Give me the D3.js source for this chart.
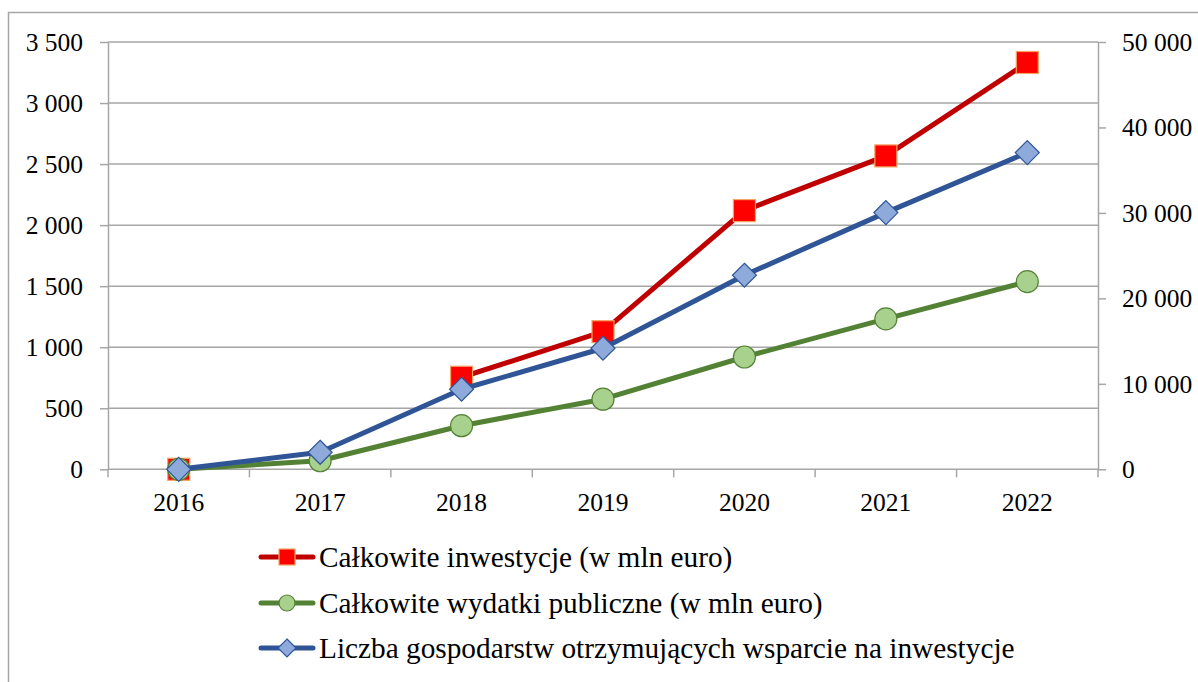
<!doctype html>
<html>
<head>
<meta charset="utf-8">
<style>
    body { margin: 0; background: #fff; }
    svg text { font-family: "Liberation Serif", "Times New Roman", serif; fill: #000; }
    .axis path, .axis line { stroke: #a6a6a6; }
</style>
<script src="https://d3js.org/d3.v7.min.js"></script>
</head>
<body>
<svg width="1198" height="682"></svg>
<script>
// data
var years = ["2016", "2017", "2018", "2019", "2020", "2021", "2022"];
var investments = [0, null, 754, 1127, 2119, 2567, 3332];        // left axis, mln euro
var publicSpending = [0, 70, 357, 574, 920, 1232, 1537];          // left axis, mln euro
var farms = [0, 1990, 9364, 14164, 22709, 30036, 37060];          // right axis
var leftTicks = [0, 500, 1000, 1500, 2000, 2500, 3000, 3500];
var rightTicks = [0, 10000, 20000, 30000, 40000, 50000];
var seriesNames = [
    "Całkowite inwestycje (w mln euro)",
    "Całkowite wydatki publiczne (w mln euro)",
    "Liczba gospodarstw otrzymujących wsparcie na inwestycje"
];

var svg = d3.select("svg");
var fontSize = 25.5,
    legendFont = 29.3;

// outer frame (runs off the right and bottom edge)
svg.append("rect")
   .attr("x", 8.5).attr("y", 12.5)
   .attr("width", 1300).attr("height", 800)
   .attr("fill", "none").attr("stroke", "#a6a6a6").attr("stroke-width", 1.5);

var plotLeft = 108, plotRight = 1098, plotTop = 42, plotBottom = 469.3;

var x = d3.scaleBand().domain(years).range([plotLeft, plotRight]).padding(0);
var yL = d3.scaleLinear().domain([0, 3500]).range([plotBottom, plotTop]);
var yR = d3.scaleLinear().domain([0, 50000]).range([plotBottom, plotTop]);

var fmt = function(d) { return d3.format(",")(d).replace(/,/g, " "); };

// gridlines
svg.append("g")
   .selectAll("line")
   .data(leftTicks.slice(1))
   .enter().append("line")
   .attr("x1", plotLeft).attr("x2", plotRight)
   .attr("y1", function(d) { return yL(d); })
   .attr("y2", function(d) { return yL(d); })
   .attr("stroke", "#a6a6a6").attr("stroke-width", 1.5);

// left axis
var gl = svg.append("g")
   .attr("class", "axis")
   .attr("transform", "translate(" + plotLeft + ",0)")
   .call(d3.axisLeft(yL).tickValues(leftTicks).tickFormat(fmt).tickSize(8).tickSizeOuter(0).tickPadding(17));
gl.selectAll("path, line").attr("stroke-width", 1.5);
gl.selectAll("text").style("font-size", fontSize + "px").attr("dy", "0.33em");

// right axis
var gr = svg.append("g")
   .attr("class", "axis")
   .attr("transform", "translate(" + plotRight + ",0)")
   .call(d3.axisRight(yR).tickValues(rightTicks).tickFormat(fmt).tickSize(8).tickSizeOuter(0).tickPadding(16));
gr.selectAll("path, line").attr("stroke-width", 1.5);
gr.selectAll("text").style("font-size", fontSize + "px").attr("dy", "0.33em");

// bottom axis: ticks at band edges, labels at band centres
var gb = svg.append("g")
   .attr("class", "axis")
   .attr("transform", "translate(0," + plotBottom + ")");
gb.append("line").attr("x1", plotLeft).attr("x2", plotRight).attr("stroke-width", 1.5);
gb.selectAll(".tk")
  .data(years.concat(["end"]))
  .enter().append("line")
  .attr("class", "tk")
  .attr("x1", function(d, i) { return plotLeft + i * x.bandwidth(); })
  .attr("x2", function(d, i) { return plotLeft + i * x.bandwidth(); })
  .attr("y1", 0).attr("y2", 8)
  .attr("stroke-width", 1.5);
gb.selectAll(".lbl")
  .data(years)
  .enter().append("text")
  .attr("class", "lbl")
  .attr("x", function(d) { return x(d) + x.bandwidth() / 2; })
  .attr("y", 42)
  .attr("text-anchor", "middle")
  .style("font-size", fontSize + "px")
  .text(function(d) { return d; });

var series = [
    { values: investments, scale: yL, line: "#c00000", fill: "#ff0000", stroke: "#f4a460", shape: "square" },
    { values: publicSpending, scale: yL, line: "#548235", fill: "#a9d18e", stroke: "#548235", shape: "circle" },
    { values: farms, scale: yR, line: "#2f5597", fill: "#8eaadb", stroke: "#2f5597", shape: "diamond" }
];

function drawMarker(g, s, cx, cy, size) {
    if (s.shape === "square") {
        g.append("rect")
         .attr("x", cx - size / 2).attr("y", cy - size / 2)
         .attr("width", size).attr("height", size)
         .attr("fill", s.fill).attr("stroke", s.stroke).attr("stroke-width", 1.2);
    } else if (s.shape === "circle") {
        g.append("circle")
         .attr("cx", cx).attr("cy", cy).attr("r", size / 2)
         .attr("fill", s.fill).attr("stroke", s.stroke).attr("stroke-width", 1.2);
    } else {
        var h = size / 2 + 1;
        g.append("path")
         .attr("d", "M" + cx + "," + (cy - h) + "L" + (cx + h) + "," + cy + "L" + cx + "," + (cy + h) + "L" + (cx - h) + "," + cy + "Z")
         .attr("fill", s.fill).attr("stroke", s.stroke).attr("stroke-width", 1.2);
    }
}

series.forEach(function(s) {
    var g = svg.append("g");
    var line = d3.line()
        .defined(function(d) { return d != null; })
        .x(function(d, i) { return x(years[i]) + x.bandwidth() / 2; })
        .y(function(d) { return s.scale(d); });
    g.append("path")
     .datum(s.values)
     .attr("d", line)
     .attr("fill", "none")
     .attr("stroke", s.line)
     .attr("stroke-width", 5)
     .attr("stroke-linejoin", "round");
    s.values.forEach(function(v, i) {
        if (v == null) return;
        drawMarker(g, s, x(years[i]) + x.bandwidth() / 2, s.scale(v), 22);
    });
});

// legend
var legendY = [557, 603, 648];
series.forEach(function(s, i) {
    var g = svg.append("g");
    g.append("line")
     .attr("x1", 261).attr("x2", 313)
     .attr("y1", legendY[i]).attr("y2", legendY[i])
     .attr("stroke", s.line).attr("stroke-width", 5).attr("stroke-linecap", "round");
    drawMarker(g, s, 287, legendY[i], 16);
    g.append("text")
     .attr("x", 319).attr("y", legendY[i])
     .attr("dy", "0.33em")
     .style("font-size", legendFont + "px")
     .text(seriesNames[i]);
});
</script>
</body>
</html>
